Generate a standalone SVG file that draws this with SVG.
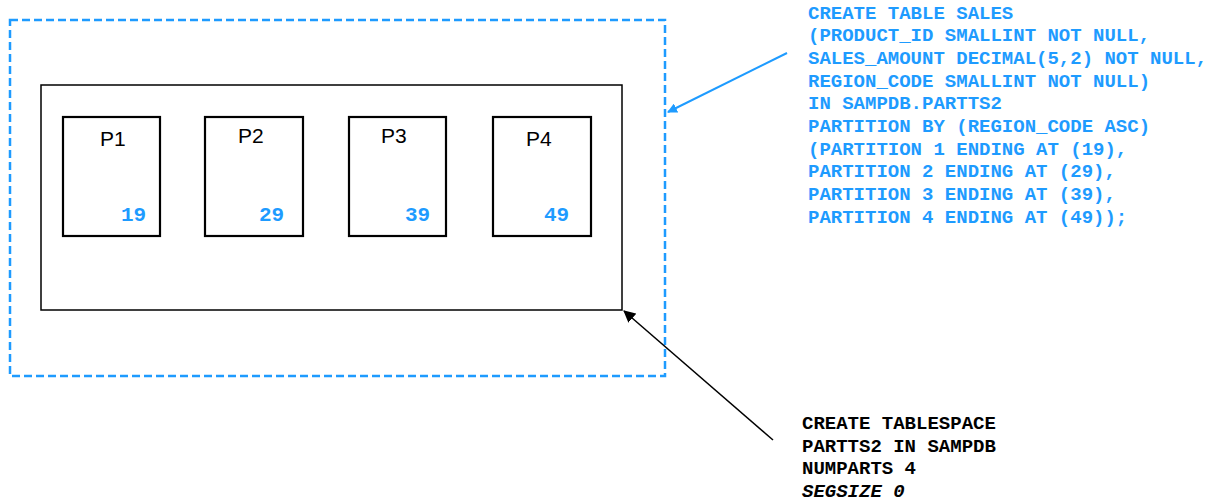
<svg xmlns="http://www.w3.org/2000/svg" width="1210" height="497" viewBox="0 0 1210 497">
  <style>
    .frame { fill: none; stroke: #1E9BFF; stroke-width: 2.5; stroke-dasharray: 8 4; }
    .ts { fill: #fff; stroke: #000; stroke-width: 1.5; }
    .part { fill: #fff; stroke: #000; stroke-width: 2.2; }
    .plabel { font-family: "Liberation Sans", Arial, sans-serif; font-size: 21px; fill: #000; }
    .limit { font-family: "Liberation Mono", "Courier New", monospace; font-weight: bold; font-size: 21px; fill: #1E9BFF; }
    .sql { font-family: "Liberation Mono", "Courier New", monospace; font-weight: bold; font-size: 19px; }
    .blue { fill: #1E9BFF; }
    .black { fill: #000; }
  </style>
  <defs>
    <marker id="ahBlue" markerWidth="10" markerHeight="10" refX="9" refY="5" orient="auto" markerUnits="userSpaceOnUse">
      <path d="M0,0 L10,5 L0,10 z" fill="#1E9BFF"/>
    </marker>
    <marker id="ahBlack" markerWidth="12" markerHeight="12" refX="11" refY="6" orient="auto" markerUnits="userSpaceOnUse">
      <path d="M0,0 L12,6 L0,12 z" fill="#000"/>
    </marker>
  </defs>

  <!-- table frame (dashed) -->
  <g id="table-frame">
    <rect class="frame" x="10" y="20" width="655" height="356"/>
  </g>

  <!-- tablespace -->
  <g id="tablespace">
    <rect class="ts" x="41" y="85" width="581" height="225"/>
  </g>

  <!-- partitions -->
  <g id="p1">
    <rect class="part" x="63" y="117" width="97" height="119"/>
    <text class="plabel" x="100" y="146">P1</text>
    <text class="limit" x="121" y="221">19</text>
  </g>
  <g id="p2">
    <rect class="part" x="205" y="117" width="98" height="119"/>
    <text class="plabel" x="238" y="143">P2</text>
    <text class="limit" x="259" y="221">29</text>
  </g>
  <g id="p3">
    <rect class="part" x="349" y="117" width="97" height="119"/>
    <text class="plabel" x="381" y="143">P3</text>
    <text class="limit" x="405" y="221">39</text>
  </g>
  <g id="p4">
    <rect class="part" x="493" y="117" width="98" height="119"/>
    <text class="plabel" x="526" y="146">P4</text>
    <text class="limit" x="544" y="221">49</text>
  </g>

  <!-- table DDL -->
  <g id="table-ddl">
    <text class="sql blue" x="808" y="18.5">
      <tspan x="808" dy="0">CREATE TABLE SALES</tspan>
      <tspan x="808" dy="22.7">(PRODUCT_ID SMALLINT NOT NULL,</tspan>
      <tspan x="808" dy="22.7">SALES_AMOUNT DECIMAL(5,2) NOT NULL,</tspan>
      <tspan x="808" dy="22.7">REGION_CODE SMALLINT NOT NULL)</tspan>
      <tspan x="808" dy="22.7">IN SAMPDB.PARTTS2</tspan>
      <tspan x="808" dy="22.7">PARTITION BY (REGION_CODE ASC)</tspan>
      <tspan x="808" dy="22.7">(PARTITION 1 ENDING AT (19),</tspan>
      <tspan x="808" dy="22.7">PARTITION 2 ENDING AT (29),</tspan>
      <tspan x="808" dy="22.7">PARTITION 3 ENDING AT (39),</tspan>
      <tspan x="808" dy="22.7">PARTITION 4 ENDING AT (49));</tspan>
    </text>
  </g>

  <!-- tablespace DDL -->
  <g id="tablespace-ddl">
    <text class="sql black" x="802" y="429">
      <tspan x="802" dy="0">CREATE TABLESPACE</tspan>
      <tspan x="802" dy="22.7">PARTTS2 IN SAMPDB</tspan>
      <tspan x="802" dy="22.7">NUMPARTS 4</tspan>
      <tspan x="802" dy="22.7" font-style="italic">SEGSIZE 0</tspan>
    </text>
  </g>

  <!-- connectors -->
  <g id="connectors">
    <line x1="787" y1="53" x2="668" y2="112" stroke="#1E9BFF" stroke-width="2" marker-end="url(#ahBlue)"/>
    <line x1="773" y1="440" x2="624" y2="311" stroke="#000" stroke-width="1.5" marker-end="url(#ahBlack)"/>
  </g>
</svg>
